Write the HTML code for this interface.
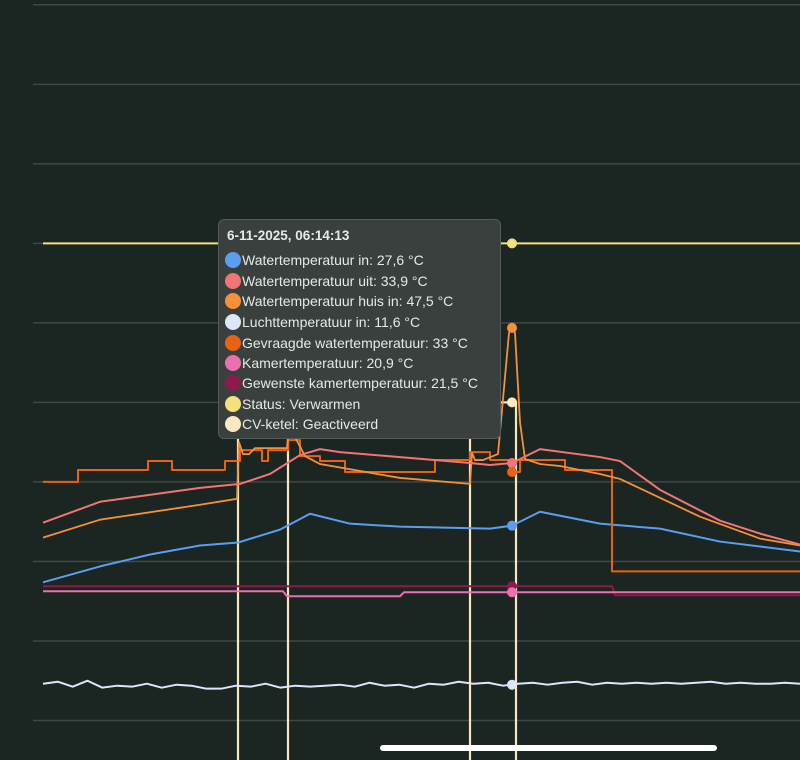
<!DOCTYPE html>
<html><head><meta charset="utf-8">
<style>
html,body{margin:0;padding:0;background:#1b2521;width:800px;height:760px;overflow:hidden;font-family:"Liberation Sans",sans-serif}
#chart{overflow:hidden}
#tip{position:absolute;left:218px;top:219px;width:283px;height:220px;background:#3a403d;border:1px solid #545b57;border-radius:6px;box-sizing:border-box;color:#e8e8e8}
#tip .t{position:absolute;left:8px;top:8px;font-weight:bold;font-size:13.5px}
.row{position:absolute;left:6px;font-size:14px;white-space:nowrap;height:18px;line-height:18px}
.row i{display:inline-block;width:16px;height:16px;border-radius:50%;vertical-align:-3px;margin-right:1px}
#home{position:absolute;left:380px;top:745px;width:337px;height:6px;border-radius:3px;background:#fff}
</style></head><body>
<svg id="chart" width="800" height="760" style="position:absolute;left:0;top:0"><defs><clipPath id="clip"><rect x="0" y="0" width="800" height="760"/></clipPath></defs><g id="plot" clip-path="url(#clip)"></g></svg>
<div id="tip">
<div class="t">6-11-2025, 06:14:13</div>
<div class="row" style="top:31px"><i style="background:#5b9ef0"></i>Watertemperatuur in: 27,6 °C</div>
<div class="row" style="top:52px"><i style="background:#f27474"></i>Watertemperatuur uit: 33,9 °C</div>
<div class="row" style="top:72px"><i style="background:#f7903a"></i>Watertemperatuur huis in: 47,5 °C</div>
<div class="row" style="top:93px"><i style="background:#dce8fa"></i>Luchttemperatuur in: 11,6 °C</div>
<div class="row" style="top:114px"><i style="background:#e8620f"></i>Gevraagde watertemperatuur: 33 °C</div>
<div class="row" style="top:134px"><i style="background:#ec6fb0"></i>Kamertemperatuur: 20,9 °C</div>
<div class="row" style="top:154px"><i style="background:#8e1a4c"></i>Gewenste kamertemperatuur: 21,5 °C</div>
<div class="row" style="top:175px"><i style="background:#f3e17a"></i>Status: Verwarmen</div>
<div class="row" style="top:195px"><i style="background:#fbe9c4"></i>CV-ketel: Geactiveerd</div>
</div>
<div id="home"></div>
<script>
// time: minutes since window start; values in °C
const gridTicks=[8,16,24,32,40,48,56,64,72,80];
const gevT=[0,35,105,129,182,197,207,219,225,245,257,277,302,392,427,447,467,477,522,569,757];
const gevV=[32,33.2,34.1,33.2,34.1,35.2,35.2,34.1,35.2,36.2,34.6,34.1,33.0,34.2,35.0,34.2,33.0,34.2,33.2,23.0,23.0];
const uitT=[0,57,157,197,227,257,277,297,357,427,447,469,497,557,577,617,677,717,757];
const uitV=[27.9,30.0,31.4,31.8,32.8,34.7,35.3,35.0,34.5,33.9,33.7,33.9,35.3,34.5,34.1,31.2,28.1,26.8,25.7];
const huisT=[0,57,157,194,196,200,206,212,244,246,252,262,277,357,427,429,432,440,455,466,469,472,477,482,497,517,557,577,657,717,757];
const huisV=[26.4,28.2,29.7,30.3,36.0,34.8,34.8,35.4,35.4,37.6,36.5,34.6,33.8,32.4,31.8,34.9,34.2,34.2,34.8,47.0,47.5,47.0,38.0,34.3,33.8,33.6,32.8,32.3,28.5,26.3,25.6];
const inT=[0,57,107,157,195,237,267,307,357,447,469,497,557,617,677,757];
const inV=[21.9,23.5,24.7,25.6,25.9,27.2,28.8,27.8,27.5,27.3,27.6,29.0,27.8,27.3,26.0,25.0];
const luchtV=[11.7,11.9,11.4,12.0,11.3,11.5,11.4,11.7,11.3,11.6,11.5,11.2,11.2,11.5,11.4,11.7,11.3,11.5,11.4,11.5,11.6,11.4,11.8,11.5,11.6,11.3,11.7,11.6,11.9,11.7,11.8,11.5,11.7,11.8,11.6,11.8,11.9,11.6,11.8,11.7,11.8,11.7,11.8,11.7,11.8,11.9,11.7,11.8,11.7,11.7,11.8,11.7];
const gewT=[0,569,572,757];
const gewV=[21.5,21.5,20.6,20.6];
const kamT=[0,240,244,357,361,757];
const kamV=[21.0,21.0,20.5,20.5,20.9,20.9];
const statT=[0,757];
const statV=[56,56];
const cvT=[195,195,245,245,427,427,473,473];
const cvV=[-4,40,40,-4,-4,40,40,-4];
const cursorT=469;
const cursorVals=[["#5b9ef0",27.6],["#f27474",33.9],["#e8620f",33],["#f7903a",47.5],["#dce8fa",11.6],["#8e1a4c",21.5],["#ec6fb0",20.9],["#f3e17a",56],["#fbe9c4",40]];

const NS="http://www.w3.org/2000/svg";
const svg=document.getElementById('plot');
const X0=43,X1=800,TMAX=757;
const xs=t=>X0+t*(X1-X0)/TMAX;
const ys=v=>800-v*9.94;
function el(tag,attrs){const e=document.createElementNS(NS,tag);for(const k in attrs)e.setAttribute(k,attrs[k]);svg.appendChild(e);return e;}
gridTicks.forEach(v=>{
  const g=el('line',{x1:33,x2:800,y1:ys(v),y2:ys(v),stroke:'#3f4844','stroke-width':1.5});
  
  
});
function line(T,V,color,name,step,w){
  let d='';
  for(let i=0;i<T.length;i++){
    const x=xs(T[i]),y=Math.min(ys(V[i]),762);
    if(i===0)d='M'+x+','+y;
    else if(step)d+=' H'+x+' V'+y;
    else d+=' L'+x+','+y;
  }
  const p=el('path',{d:d,fill:'none',stroke:color,'stroke-width':w||2,'stroke-linejoin':'round'});
  
  
}
line(cvT,cvV,'#f6e7bd','series-cv-ketel',true,2.2);
line(statT,statV,'#f3e17a','series-status',false,2);
line(gewT,gewV,'#8e1a4c','series-gewenste-kamertemp',false,2);
line(kamT,kamV,'#ec6fb0','series-kamertemp',false,2);
const lT=luchtV.map((v,i)=>i*TMAX/(luchtV.length-1));
line(lT,luchtV,'#dce8fa','series-luchttemp',false,2);
line(inT,inV,'#5b9ef0','series-water-in',false,2);
line(gevT,gevV,'#e8620f','series-gevraagde-watertemp',true,2);
line(huisT,huisV,'#f7903a','series-water-huis-in',false,1.8);
line(uitT,uitV,'#f27474','series-water-uit',false,2);
cursorVals.forEach(([c,v],i)=>{
  const m=el('circle',{cx:xs(cursorT),cy:ys(v),r:5,fill:c});
  
  
});
</script>
</body></html>
